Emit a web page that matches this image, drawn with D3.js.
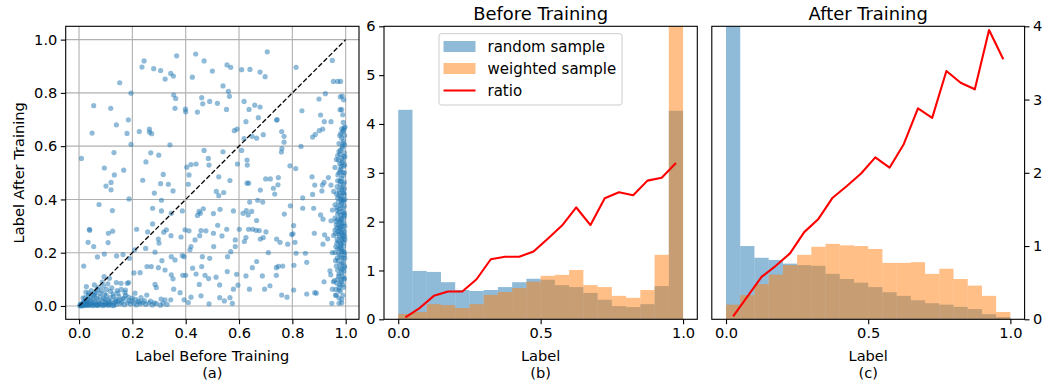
<!DOCTYPE html>
<html><head><meta charset="utf-8">
<script src="https://cdn.jsdelivr.net/npm/d3@7"></script>
<style>
body{margin:0;background:#fff;}
svg{display:block;font-family:"DejaVu Sans",sans-serif;}
</style></head><body>
<svg id="chart" width="1044" height="386"></svg>
<script>
// ---------- DATA ----------
const binEdges = [0,0.05,0.1,0.15,0.2,0.25,0.3,0.35,0.4,0.45,0.5,0.55,0.6,0.65,0.7,0.75,0.8,0.85,0.9,0.95,1.0];
const binCenters = [0.025,0.075,0.125,0.175,0.225,0.275,0.325,0.375,0.425,0.475,0.525,0.575,0.625,0.675,0.725,0.775,0.825,0.875,0.925,0.975];

const beforeRandom   = [4.29,0.99,0.97,0.76,0.60,0.58,0.60,0.66,0.76,0.83,0.81,0.70,0.66,0.54,0.40,0.27,0.25,0.31,0.68,4.27];
const beforeWeighted = [0.11,0.15,0.31,0.29,0.23,0.31,0.50,0.56,0.64,0.77,0.89,0.91,1.01,0.70,0.66,0.48,0.44,0.60,1.32,8.00];
const beforeRatio    = [0.04,0.23,0.48,0.57,0.57,0.82,1.23,1.28,1.28,1.39,1.65,1.92,2.29,1.93,2.48,2.60,2.54,2.84,2.90,3.20];

const afterRandom   = [7.00,1.00,0.84,0.81,0.76,0.74,0.73,0.62,0.55,0.50,0.44,0.37,0.32,0.26,0.22,0.20,0.17,0.14,0.07,0.03];
const afterWeighted = [0.20,0.33,0.48,0.61,0.74,0.88,0.99,1.03,1.01,1.00,0.96,0.77,0.77,0.78,0.62,0.69,0.55,0.46,0.32,0.10];
const afterRatio    = [0.04,0.31,0.58,0.73,0.90,1.19,1.37,1.66,1.82,1.99,2.21,2.07,2.39,2.88,2.75,3.39,3.23,3.14,3.95,3.55];

const scatterTicks = [0,0.2,0.4,0.6,0.8,1.0];
const histXTicks = [0,0.5,1.0];
const beforeYTicks = [0,1,2,3,4,5,6];
const afterYTicks = [0,1,2,3,4];
const legendLabels = ["random sample","weighted sample","ratio"];

// scatter: label before training (x), label after training (y)
const scatterPoints = [
[.4375,.946],[.706,.954],[.244,.920],[.366,.939],[.469,.920],[.236,.897],[.280,.891],[.306,.884],[.323,.852],[.344,.873],
[.354,.863],[.425,.859],[.500,.882],[.555,.905],[.569,.896],[.610,.887],[.641,.888],[.679,.878],[.698,.861],[.814,.896],
[.950,.922],[.1525,.838],[.195,.799],[.540,.826],[.560,.806],[.564,.787],[.355,.792],[.3625,.779],[.460,.782],[.055,.752],
[.119,.742],[.360,.742],[.399,.739],[.400,.729],[.444,.728],[.464,.759],[.490,.768],[.519,.761],[.553,.738],[.619,.768],
[.659,.754],[.679,.747],[.6375,.738],[.626,.692],[.6725,.707],[.741,.698],[.743,.700],[.836,.733],[.900,.777],[.924,.797],
[.954,.843],[.970,.843],[.981,.843],[.140,.680],[.185,.699],[.049,.649],[.180,.648],[.226,.655],[.264,.664],[.264,.653],
[.2725,.647],[.195,.607],[.5925,.664],[.5825,.658],[.619,.628],[.649,.637],[.666,.630],[.691,.643],[.760,.655],[.769,.637],
[.769,.615],[.761,.591],[.8325,.599],[.906,.717],[.914,.664],[.901,.658],[.886,.644],[.876,.634],[.920,.692],[.945,.692],
[.991,.689],[.979,.737],[.985,.737],[.989,.718],[.980,.785],[.987,.788],[.9925,.774],[.994,.669],[.9975,.672],
[.009,.554],[.095,.518],[.120,.464],[.101,.450],[.120,.436],[.1325,.492],[.1675,.510],[.131,.576],[.075,.381],[.1875,.402],
[.239,.472],[.251,.541],[.269,.575],[.2825,.424],[.299,.566],[.316,.494],[.335,.457],[.306,.459],[.3525,.432],[.341,.605],
[.404,.521],[.4125,.492],[.420,.531],[.410,.457],[.439,.533],[.485,.554],[.4875,.529],[.469,.584],[.524,.485],[.515,.430],
[.524,.414],[.5425,.426],[.540,.579],[.566,.471],[.594,.533],[.610,.584],[.630,.548],[.631,.529],[.630,.461],[.636,.461],
[.680,.435],[.700,.477],[.7175,.477],[.729,.442],[.734,.420],[.746,.455],[.7475,.482],[.759,.578],[.791,.526],[.8125,.516],
[.874,.485],[.884,.454],[.876,.419],[.911,.432],[.9125,.454],[.919,.464],[.935,.482],[.945,.454],[.839,.406],[.839,.367],
[.7925,.376],[.770,.345],[.670,.397],[.689,.390],[.640,.390],[.615,.348],[.6275,.358],[.634,.342],[.6475,.355],[.579,.357],
[.529,.363],[.504,.347],[.466,.365],[.450,.355],[.444,.340],[.455,.348],[.3875,.357],[.309,.397],[.276,.367],[.309,.357],
[.346,.348],[.906,.342],[.915,.326],[.880,.367],[.996,.605],
[.039,.288],[.040,.284],[.034,.239],[.055,.223],[.069,.184],[.095,.195],[.110,.273],[.126,.281],[.125,.358],[.109,.238],
[.216,.288],[.2575,.278],[.276,.308],[.250,.216],[.209,.211],[.165,.193],[.189,.179],[.141,.188],[.2975,.251],[.300,.236],
[.3175,.277],[.3275,.286],[.285,.202],[.345,.264],[.360,.173],[.346,.185],[.3825,.259],[.3875,.189],[.3975,.286],[.4125,.282],
[.420,.223],[.416,.211],[.435,.248],[.4525,.264],[.4575,.283],[.4625,.185],[.476,.282],[.490,.179],[.505,.223],[.504,.273],
[.520,.303],[.536,.263],[.554,.288],[.557,.185],[.569,.204],[.586,.248],[.586,.223],[.601,.288],[.620,.242],[.626,.257],
[.636,.288],[.651,.288],[.666,.321],[.664,.284],[.676,.283],[.680,.251],[.691,.257],[.701,.278],[.710,.200],[.741,.251],
[.754,.239],[.7825,.232],[.7975,.268],[.810,.239],[.8025,.271],[.814,.198],[.849,.198],[.854,.164],[.8825,.273],[.915,.232],
[.921,.267],[.9325,.252],[.805,.302],[.806,.153],[.740,.144],[.7475,.149],[.764,.150],
[.0175,.150],[.0575,.079],[.094,.110],[.114,.104],[.140,.088],[.1575,.085],[.186,.088],[.206,.124],[.229,.125],[.255,.148],
[.271,.148],[.2975,.144],[.311,.170],[.3225,.135],[.346,.117],[.3525,.102],[.389,.115],[.400,.115],[.394,.185],[.426,.142],
[.439,.120],[.451,.081],[.460,.148],[.4725,.115],[.486,.103],[.514,.108],[.5275,.079],[.556,.129],[.591,.119],[.596,.078],
[.626,.113],[.639,.063],[.650,.144],[.666,.167],[.6875,.113],[.696,.063],[.716,.076],[.740,.115],[.760,.041],[.780,.033],
[.805,.060],[.854,.045],[.884,.050],[.890,.048],[.919,.091],[.950,.063],[.948,.010],[.975,.010],[.965,.041],[.954,.091],
[.944,.117],[.941,.132],[.4875,.008],[.575,.010],[.579,.063],[.5275,.031],[.545,.019],[.566,.031],[.4575,.038],[.420,.033],
[.410,.013],[.394,.023],[.379,.050],[.355,.063],[.344,.023],[.3225,.023],[.3075,.026],[.290,.069],[.285,.081],[.254,.041],
[.2325,.031],[.210,.048],[.181,.085],[.174,.060],[.146,.048],[.129,.035],[.099,.026],[.079,.048],[.0575,.048],[.036,.048],
[.0225,.031],[.0275,.073],[.0725,.070],[.091,.075],
[.003,.001],[.006,.003],[.010,.005],[.013,.002],[.016,.008],[.020,.004],[.024,.012],[.027,.006],[.031,.015],[.034,.003],
[.038,.010],[.041,.020],[.045,.006],[.048,.013],[.052,.025],[.055,.004],[.058,.017],[.062,.009],[.066,.030],[.069,.005],
[.072,.022],[.076,.012],[.080,.035],[.083,.007],[.087,.018],[.091,.028],[.094,.004],[.098,.014],[.102,.040],[.105,.009],
[.109,.022],[.113,.006],[.117,.031],[.120,.015],[.124,.003],[.128,.045],[.132,.011],[.136,.024],[.140,.006],[.145,.018],
[.150,.035],[.155,.008],[.160,.014],[.165,.026],[.170,.005],[.175,.040],[.181,.012],[.187,.020],[.193,.007],[.200,.030],
[.207,.010],[.215,.004],[.222,.018],[.230,.008],[.240,.013],[.250,.006],[.262,.011],[.275,.004],[.290,.009],[.305,.003],
[.012,.010],[.022,.018],[.033,.026],[.043,.033],[.053,.040],[.063,.052],[.046,.058],[.085,.058],[.103,.062],[.118,.055],
[.096,.045],[.060,.038],[.070,.002],[.090,.001],[.110,.002],[.130,.001],[.005,.006],[.017,.014],[.028,.021],[.039,.003],
[.008,.000],[.018,.001],[.029,.002],[.050,.001],[.063,.003],[.078,.004],[.100,.006],[.115,.013],[.138,.016],[.152,.022],
[.168,.030],[.185,.033],[.198,.018],[.212,.025],[.226,.014],[.245,.020],[.268,.018],[.282,.012],[.315,.010],[.330,.006],
[.143,.058],[.158,.062],[.172,.050],[.123,.068],[.108,.083],[.087,.090],[.068,.062],[.036,.040],[.026,.052],[.015,.030],
[.985,.665],[.990,.655],[.978,.640],[.992,.620],[.975,.610],[.988,.600],[.980,.585],[.995,.575],[.970,.565],[.985,.555],
[.990,.545],[.978,.535],[.993,.525],[.982,.515],[.975,.500],[.990,.490],[.985,.480],[.970,.470],[.995,.465],[.980,.455],
[.988,.445],[.975,.435],[.992,.425],[.965,.420],[.983,.410],[.990,.400],[.972,.390],[.985,.385],[.960,.380],[.995,.375],
[.978,.365],[.988,.355],[.970,.345],[.982,.340],[.993,.330],[.976,.320],[.986,.310],[.965,.305],[.990,.300],[.980,.290],
[.960,.285],[.972,.280],[.985,.275],[.993,.270],[.955,.265],[.977,.260],[.968,.250],[.988,.245],[.980,.235],[.992,.225],
[.970,.215],[.985,.205],[.960,.200],[.978,.190],[.990,.180],[.972,.170],[.986,.160],[.965,.150],[.981,.140],[.993,.130],
[.975,.120],[.988,.110],[.970,.100],[.984,.090],[.978,.080],[.992,.070],[.980,.055],[.990,.040],[.985,.025],[.975,.030],
[.950,.200],[.955,.430],[.945,.320],[.960,.330],[.950,.360],[.965,.550],[.960,.520],[.975,.580],[.990,.610],[.985,.630],
[.995,.500],[.995,.440],[.995,.350],[.995,.280],[.995,.200],[.995,.150],[.995,.100],[.997,.560],[.997,.400],[.997,.300],
[.997,.250],[.997,.180],[.982,.330],[.976,.295],[.988,.265],[.970,.325],[.983,.525],[.978,.470],[.990,.425],[.986,.395],
[.975,.415],[.968,.360],[.992,.345],[.980,.315],[.974,.270],[.990,.255],[.983,.230],[.967,.235],[.977,.215],[.991,.205],
[.962,.170],[.986,.125],[.970,.135],[.958,.095],[.975,.060],[.962,.040],
[.992,.660],[.982,.648],[.996,.640],[.987,.592],[.979,.570],[.993,.562],[.973,.548],[.987,.538],[.996,.530],[.979,.508],
[.989,.502],[.971,.492],[.983,.468],[.992,.458],[.968,.448],[.986,.438],[.977,.425],[.995,.418],[.981,.402],[.970,.405],
[.992,.392],[.979,.378],[.967,.370],[.989,.368],[.975,.352],[.996,.340],[.985,.325],[.963,.318],[.993,.312],[.973,.305],
[.983,.298],[.967,.292],[.989,.286],[.978,.278],[.962,.272],[.996,.262],[.984,.252],[.972,.242],[.993,.238],[.981,.222],
[.963,.222],[.987,.212],[.974,.198],[.995,.192],[.983,.182],[.968,.180],[.991,.165],[.978,.155],[.996,.145],[.987,.138],
[.974,.112],[.994,.105],[.982,.098],[.967,.085],[.989,.080],[.976,.070],[.963,.062],[.985,.012]
];

// ---------- LAYOUT ----------
const svg = d3.select("#chart");
const FS = 14.6;
const blue = "#1f77b4", orange = "#ff7f0e";

function styleAxis(g){
  g.selectAll("path.domain").remove();
  g.selectAll(".tick line").attr("stroke","#000").attr("stroke-width",1.1);
  g.selectAll(".tick text").attr("font-size",FS).attr("fill","#000").attr("font-family","DejaVu Sans");
}
function frame(x0,x1,y0,y1){
  svg.append("rect").attr("x",x0).attr("y",y0).attr("width",x1-x0).attr("height",y1-y0)
    .attr("fill","none").attr("stroke","#000").attr("stroke-width",1.1);
}

// ---- Panel (a): scatter ----
{
  const L=65.7,R=359,T=26.3,B=319.3;
  const x = d3.scaleLinear().domain([-0.05,1.05]).range([L,R]);
  const y = d3.scaleLinear().domain([-0.05,1.05]).range([B,T]);
  const g = svg.append("g");
  g.selectAll("line.gx").data(scatterTicks).join("line").attr("class","gx")
    .attr("x1",d=>x(d)).attr("x2",d=>x(d)).attr("y1",T).attr("y2",B)
    .attr("stroke","#b0b0b0").attr("stroke-width",1.1);
  g.selectAll("line.gy").data(scatterTicks).join("line").attr("class","gy")
    .attr("y1",d=>y(d)).attr("y2",d=>y(d)).attr("x1",L).attr("x2",R)
    .attr("stroke","#b0b0b0").attr("stroke-width",1.1);
  svg.append("clipPath").attr("id","clipA").append("rect").attr("x",L).attr("y",T).attr("width",R-L).attr("height",B-T);
  const pg = svg.append("g").attr("clip-path","url(#clipA)");
  pg.selectAll("circle").data(scatterPoints).join("circle")
    .attr("cx",d=>x(d[0])).attr("cy",d=>y(d[1])).attr("r",2.6)
    .attr("fill",blue).attr("fill-opacity",0.5);
  pg.append("line").attr("x1",x(0)).attr("y1",y(0)).attr("x2",x(1)).attr("y2",y(1))
    .attr("stroke","#000").attr("stroke-width",1.3).attr("stroke-dasharray","5,2.2");
  svg.append("g").attr("transform",`translate(0,${B})`)
    .call(d3.axisBottom(x).tickValues(scatterTicks).tickFormat(d3.format(".1f")).tickSize(4.9).tickPadding(3.5)).call(styleAxis);
  svg.append("g").attr("transform",`translate(${L},0)`)
    .call(d3.axisLeft(y).tickValues(scatterTicks).tickFormat(d3.format(".1f")).tickSize(4.9).tickPadding(3.5)).call(styleAxis);
  frame(L,R,T,B);
  svg.append("text").attr("x",(L+R)/2).attr("y",361).attr("text-anchor","middle").attr("font-size",FS).text("Label Before Training");
  svg.append("text").attr("x",(L+R)/2).attr("y",378).attr("text-anchor","middle").attr("font-size",FS).text("(a)");
  svg.append("text").attr("transform",`translate(23.5,${(T+B)/2}) rotate(-90)`).attr("text-anchor","middle").attr("font-size",FS).text("Label After Training");
}

function histPanel(opts){
  const {L,R,T,B,ymax,rnd,wtd,ratio,id,title,sub,right,yTicks} = opts;
  const x = d3.scaleLinear().domain([-0.05,1.05]).range([L,R]);
  const y = d3.scaleLinear().domain([0,ymax]).range([B,T]);
  svg.append("clipPath").attr("id",id).append("rect").attr("x",L).attr("y",T).attr("width",R-L).attr("height",B-T);
  const g = svg.append("g").attr("clip-path",`url(#${id})`);
  const bins = d3.range(binCenters.length);
  g.selectAll("rect.r").data(bins).join("rect").attr("class","r")
    .attr("x",i=>x(binEdges[i])).attr("width",i=>x(binEdges[i+1])-x(binEdges[i]))
    .attr("y",i=>y(rnd[i])).attr("height",i=>y(0)-y(rnd[i]))
    .attr("fill",blue).attr("fill-opacity",0.5);
  g.selectAll("rect.w").data(bins).join("rect").attr("class","w")
    .attr("x",i=>x(binEdges[i])).attr("width",i=>x(binEdges[i+1])-x(binEdges[i]))
    .attr("y",i=>y(wtd[i])).attr("height",i=>y(0)-y(wtd[i]))
    .attr("fill",orange).attr("fill-opacity",0.5);
  const line = d3.line().x((d,i)=>x(binCenters[i])).y(d=>y(d));
  g.append("path").datum(ratio).attr("d",line).attr("fill","none").attr("stroke","#ff0000").attr("stroke-width",2.1).attr("stroke-linejoin","round");
  svg.append("g").attr("transform",`translate(0,${B})`)
    .call(d3.axisBottom(x).tickValues(histXTicks).tickFormat(d3.format(".1f")).tickSize(4.9).tickPadding(3.5)).call(styleAxis);
  if(right){
    svg.append("g").attr("transform",`translate(${R},0)`)
      .call(d3.axisRight(y).tickValues(yTicks).tickFormat(d3.format("d")).tickSize(4.9).tickPadding(3.5)).call(styleAxis);
  } else {
    svg.append("g").attr("transform",`translate(${L},0)`)
      .call(d3.axisLeft(y).tickValues(yTicks).tickFormat(d3.format("d")).tickSize(4.9).tickPadding(3.5)).call(styleAxis);
  }
  frame(L,R,T,B);
  svg.append("text").attr("x",(L+R)/2).attr("y",20).attr("text-anchor","middle").attr("font-size",17.9).text(title);
  svg.append("text").attr("x",(L+R)/2).attr("y",361).attr("text-anchor","middle").attr("font-size",FS).text("Label");
  svg.append("text").attr("x",(L+R)/2).attr("y",378).attr("text-anchor","middle").attr("font-size",FS).text(sub);
}

histPanel({L:384,R:697.3,T:26.3,B:319.3,ymax:6,rnd:beforeRandom,wtd:beforeWeighted,ratio:beforeRatio,id:"clipB",title:"Before Training",sub:"(b)",right:false,yTicks:beforeYTicks});
histPanel({L:711.8,R:1024.6,T:26.3,B:319.3,ymax:4,rnd:afterRandom,wtd:afterWeighted,ratio:afterRatio,id:"clipC",title:"After Training",sub:"(c)",right:true,yTicks:afterYTicks});

// legend (in panel b)
{
  const lg = svg.append("g");
  lg.append("rect").attr("x",439).attr("y",33.7).attr("width",183).attr("height",71.3).attr("rx",2.5)
    .attr("fill","#fff").attr("fill-opacity",0.8).attr("stroke","#cccccc").attr("stroke-width",1);
  const rows = [41,63,85];
  lg.append("rect").attr("x",443.5).attr("y",rows[0]).attr("width",32).attr("height",11).attr("fill",blue).attr("fill-opacity",0.5);
  lg.append("rect").attr("x",443.5).attr("y",rows[1]).attr("width",32).attr("height",11).attr("fill",orange).attr("fill-opacity",0.5);
  lg.append("line").attr("x1",443.5).attr("x2",475.5).attr("y1",rows[2]+5.5).attr("y2",rows[2]+5.5).attr("stroke","#ff0000").attr("stroke-width",2.1);
  legendLabels.forEach((t,i)=>{
    lg.append("text").attr("x",487.5).attr("y",rows[i]+10.5).attr("font-size",15).text(t);
  });
}
</script>
</body></html>
